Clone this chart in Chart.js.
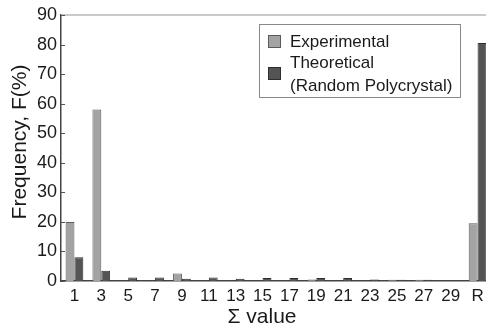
<!DOCTYPE html>
<html><head><meta charset="utf-8">
<script src="https://cdn.jsdelivr.net/npm/chart.js@4/dist/chart.umd.min.js"></script>
<style>
html,body{margin:0;padding:0;background:#fff;overflow:hidden;}
#wrap{width:496px;height:329px;position:relative;}
</style></head>
<body><div id="wrap"><canvas id="c"></canvas></div>
<script>
const categories = ["1","3","5","7","9","11","13","15","17","19","21","23","25","27","29","R"];
const experimental = [20, 58, 0, 0, 2.5, 0, 0, 0, 0, 0.5, 0, 0, 0.4, 0.4, 0, 19.5];
const theoretical = [8, 3.5, 1.2, 1.2, 0.8, 1.2, 0.8, 1.0, 1.0, 1.0, 1.0, 0.5, 0.4, 0.4, 0, 80.5];
const seriesNames = ["Experimental", "Theoretical", "(Random Polycrystal)"];
const yTicks = [0,10,20,30,40,50,60,70,80,90];
const xTitle = "Σ value";
const yTitle = "Frequency, F(%)";

const FONT = "'Liberation Sans', Arial, sans-serif";
const expFill = "#a3a3a3", expBorder = "#5a5a5a";
const theoFill = "#545454", theoBorder = "#2e2e2e";

const extras = {
  id: "extras",
  afterDraw(chart) {
    const ctx = chart.ctx, a = chart.chartArea, y = chart.scales.y;
    ctx.save();
    // top frame line
    ctx.strokeStyle = "#b8b8b8"; ctx.lineWidth = 1.5;
    ctx.beginPath(); ctx.moveTo(a.left, a.top); ctx.lineTo(chart.width, a.top); ctx.stroke();
    // inward y ticks
    ctx.strokeStyle = "#555"; ctx.lineWidth = 1;
    yTicks.forEach(v => {
      const py = Math.round(y.getPixelForValue(v)) + 0.5;
      ctx.beginPath(); ctx.moveTo(a.left, py); ctx.lineTo(a.left + 4, py); ctx.stroke();
    });
    // axis titles
    ctx.fillStyle = "#1a1a1a";
    ctx.textAlign = "center"; ctx.textBaseline = "middle";
    ctx.font = "21px " + FONT;
    ctx.fillText(xTitle, 262, 317);
    ctx.save();
    ctx.translate(20, 142); ctx.rotate(-Math.PI / 2);
    ctx.fillText(yTitle, 0, 0);
    ctx.restore();
    // legend box
    ctx.strokeStyle = "#8a8a8a"; ctx.lineWidth = 1;
    ctx.fillStyle = "#fff";
    ctx.fillRect(259.5, 24.5, 201, 73);
    ctx.strokeRect(259.5, 24.5, 201, 73);
    ctx.fillStyle = expFill; ctx.strokeStyle = expBorder;
    ctx.fillRect(268.5, 35.5, 12, 12); ctx.strokeRect(268.5, 35.5, 12, 12);
    ctx.fillStyle = theoFill; ctx.strokeStyle = theoBorder;
    ctx.fillRect(268.5, 67.5, 12, 12); ctx.strokeRect(268.5, 67.5, 12, 12);
    ctx.fillStyle = "#1a1a1a";
    ctx.font = "17px " + FONT;
    ctx.textBaseline = "middle"; ctx.textAlign = "left";
    ctx.fillText(seriesNames[0], 290, 42);
    ctx.fillText(seriesNames[1], 290, 63);
    ctx.fillText(seriesNames[2], 290, 86);
    ctx.restore();
  }
};

new Chart(document.getElementById("c"), {
  type: "bar",
  data: {
    labels: categories,
    datasets: [
      { label: seriesNames[0], data: experimental, backgroundColor: expFill, borderColor: expBorder, borderWidth: 1, borderSkipped: "bottom" },
      { label: seriesNames[1] + " " + seriesNames[2], data: theoretical, backgroundColor: theoFill, borderColor: theoBorder, borderWidth: 1, borderSkipped: "bottom" }
    ]
  },
  options: {
    responsive: true, maintainAspectRatio: false, animation: false,
    devicePixelRatio: 1,
    layout: { padding: { top: 15, left: 0, right: 5, bottom: 0 } },
    datasets: { bar: { categoryPercentage: 0.66, barPercentage: 1 } },
    plugins: { legend: { display: false }, tooltip: { enabled: false } },
    scales: {
      x: {
        grid: { display: false, drawTicks: false },
        border: { color: "#444", width: 1.5 },
        ticks: { color: "#1a1a1a", font: { family: FONT, size: 17 }, padding: 5, maxRotation: 0, autoSkip: false },
        afterFit(s) { s.height = 48; }
      },
      y: {
        min: 0, max: 90,
        afterBuildTicks(s) { s.ticks = yTicks.map(v => ({ value: v })); },
        grid: { display: false, drawTicks: false },
        border: { color: "#444", width: 1.5 },
        ticks: { color: "#1a1a1a", font: { family: FONT, size: 18 }, padding: 4 },
        afterFit(s) { s.width = 61; }
      }
    }
  },
  plugins: [extras]
});
</script></body></html>
